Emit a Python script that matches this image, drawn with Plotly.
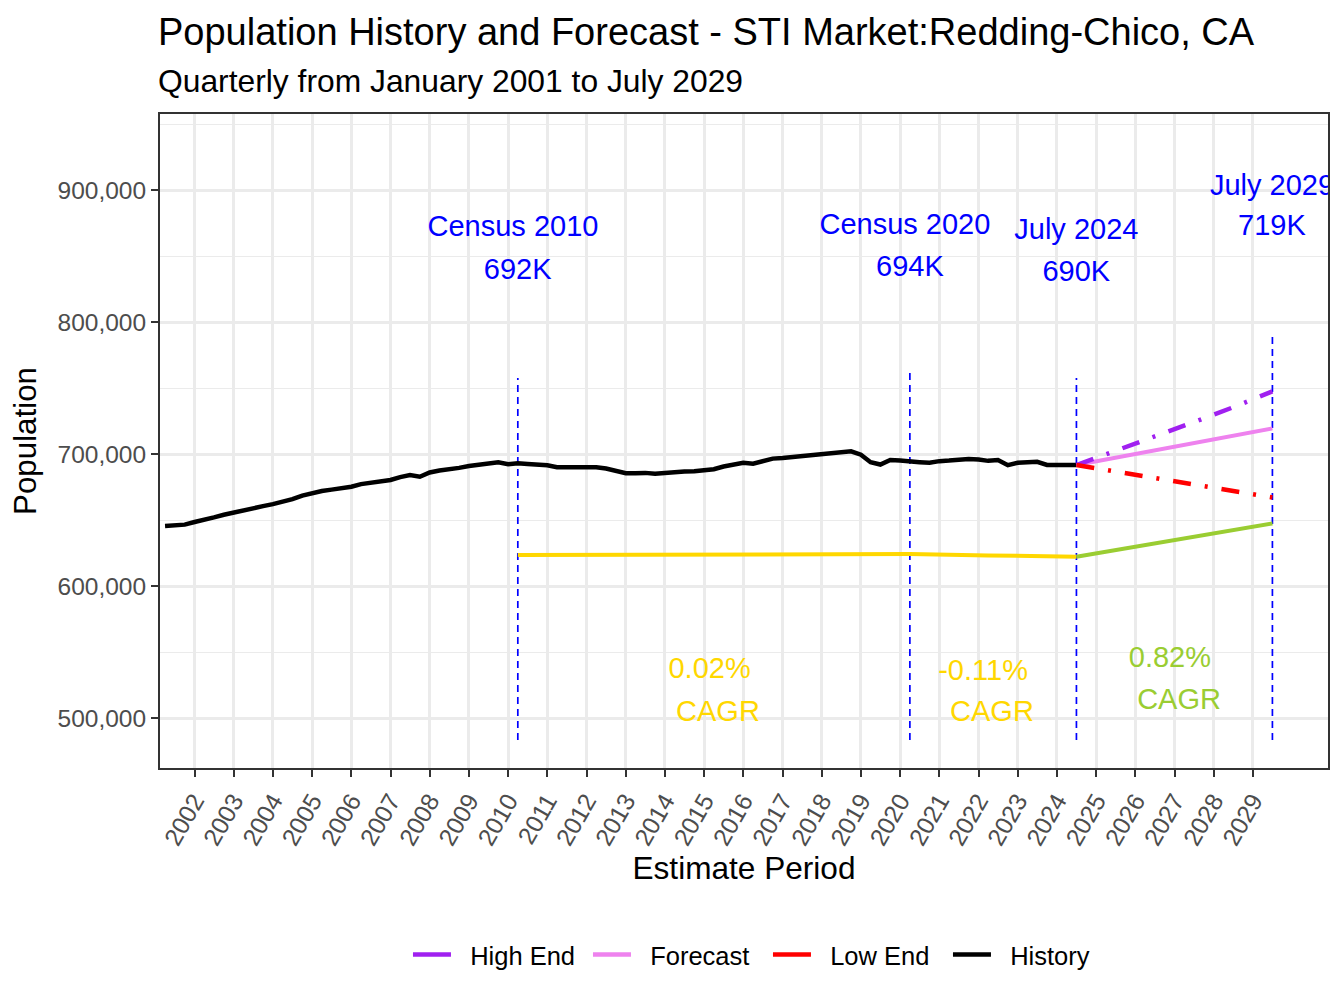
import pandas as pd
import plotly.graph_objects as go

# quarterly history, April 2001 .. July 2024 (thousands)
hist_dates = pd.date_range("2001-04-01", "2024-07-01", freq="QS")
hist_pop = [
    645.5, 645.6, 646.5,
    648.5, 650.0, 652.0, 654.0,
    655.8, 657.5, 659.3, 660.5,
    662.0, 663.5, 665.8, 668.5,
    670.5, 672.0, 673.0, 674.0,
    675.2, 677.2, 678.5, 679.3,
    680.3, 682.5, 684.0, 682.8,
    686.0, 687.5, 688.3, 689.5,
    690.9, 692.0, 693.0, 693.7,
    692.3, 692.9, 692.4, 692.0,
    691.5, 690.0, 690.0, 690.0,
    690.0, 690.0, 689.0, 687.0,
    685.5, 685.5, 685.7, 685.0,
    685.8, 686.5, 686.7, 687.0,
    687.5, 688.5, 690.5, 692.0,
    693.3, 692.6, 694.8, 696.5,
    697.0, 697.6, 698.7, 699.5,
    700.2, 700.5, 701.0, 702.0,
    699.5, 693.8, 692.0, 695.5,
    695.0, 694.0, 693.8, 693.3,
    694.6, 695.0, 695.5, 696.2,
    695.8, 694.8, 695.5, 691.5,
    693.4, 694.0, 694.1, 691.7,
    691.6, 691.6, 691.6,
]

# forecast, yearly July points
fc_dates = ["2024-07-01", "2025-07-01", "2026-07-01", "2027-07-01", "2028-07-01", "2029-07-01"]
forecast = [691.6, 697.1, 702.6, 708.2, 713.8, 719.4]
high_end = [691.6, 702.2, 713.2, 724.2, 735.4, 747.4]
low_end = [691.6, 686.6, 681.6, 676.8, 672.0, 667.1]

# CAGR guide lines (offset series)
cagr_hist_dates = ["2010-04-01", "2015-04-01", "2020-04-01", "2022-04-01", "2024-07-01"]
cagr_hist = [623.5, 623.9, 624.2, 623.2, 622.2]
cagr_fc_dates = ["2024-07-01", "2029-07-01"]
cagr_fc = [622.2, 647.4]

# reference markers
mark_dates = ["2010-04-01", "2020-04-01", "2024-07-01", "2029-07-01"]
mark_low = [483.3, 483.3, 483.3, 483.3]
mark_high = [757.6, 763.6, 757.6, 792.4]

# labels
lab_text = ["Census 2010", "692K", "Census 2020", "694K", "July 2024", "690K", "July 2029", "719K"]
lab_x = ["2010-02-15", "2010-03-31", "2020-02-15", "2020-04-01", "2024-06-30", "2024-06-30", "2029-06-27", "2029-06-27"]
lab_y = [870.5, 837.9, 872.0, 840.2, 868.2, 836.4, 901.5, 871.2]

cagr_text = ["0.02%", "CAGR", "-0.11%", "CAGR", "0.82%", "CAGR"]
cagr_x = ["2015-02-21", "2015-05-10", "2022-02-12", "2022-05-06", "2026-11-19", "2027-02-12"]
cagr_y = [535.6, 503.0, 534.1, 503.0, 543.9, 512.1]
cagr_col = ["#FFD700", "#FFD700", "#FFD700", "#FFD700", "#9ACD32", "#9ACD32"]

years = list(range(2002, 2030))

FONT = "Liberation Sans, Arial, sans-serif"
k = 1000
NB = "\u00a0\u00a0"  # small gap between legend key and label

fig = go.Figure()

for d, lo, hi in zip(mark_dates, mark_low, mark_high):
    fig.add_trace(go.Scatter(x=[d, d], y=[lo * k, hi * k], mode="lines",
                             line=dict(color="#0000FF", width=1.7, dash="7px,5px"),
                             showlegend=False, hoverinfo="skip"))

fig.add_trace(go.Scatter(x=cagr_hist_dates, y=[v * k for v in cagr_hist], mode="lines",
                         line=dict(color="#FFD700", width=4), showlegend=False))
fig.add_trace(go.Scatter(x=cagr_fc_dates, y=[v * k for v in cagr_fc], mode="lines",
                         line=dict(color="#9ACD32", width=4), showlegend=False))

fig.add_trace(go.Scatter(x=hist_dates, y=[v * k for v in hist_pop], mode="lines",
                         line=dict(color="black", width=4.5), showlegend=False))
fig.add_trace(go.Scatter(x=fc_dates, y=[v * k for v in forecast], mode="lines",
                         line=dict(color="#EE82EE", width=4), showlegend=False))
fig.add_trace(go.Scatter(x=fc_dates, y=[v * k for v in high_end], mode="lines",
                         line=dict(color="#A020F0", width=4.5, dash="18px,14px,3px,14px"),
                         showlegend=False))
fig.add_trace(go.Scatter(x=fc_dates, y=[v * k for v in low_end], mode="lines",
                         line=dict(color="#FF0000", width=4.5, dash="18px,14px,3px,14px"),
                         showlegend=False))

# legend keys (solid, as in the original)
for name, col, rank in [("High End", "#A020F0", 1), ("Forecast", "#EE82EE", 2),
                        ("Low End", "#FF0000", 3), ("History", "black", 4)]:
    fig.add_trace(go.Scatter(x=[None], y=[None], mode="lines", name=NB + name,
                             line=dict(color=col, width=4.5), legendrank=rank))

fig.add_trace(go.Scatter(x=lab_x, y=[v * k for v in lab_y], mode="text", text=lab_text,
                         textposition="middle center",
                         textfont=dict(family=FONT, size=29, color="#0000FF"),
                         showlegend=False, hoverinfo="skip"))
fig.add_trace(go.Scatter(x=cagr_x, y=[v * k for v in cagr_y], mode="text", text=cagr_text,
                         textposition="middle center",
                         textfont=dict(family=FONT, size=29, color=cagr_col),
                         showlegend=False, hoverinfo="skip"))

# page body has an 8px margin, so the figure is 8px smaller and margins shifted
fig.update_layout(
    width=1336, height=1000,
    margin=dict(l=152, r=16, t=106, b=240),
    paper_bgcolor="white", plot_bgcolor="white",
    font=dict(family=FONT, color="black"),
    legend=dict(orientation="h", x=0.2123, xanchor="left", y=-0.286, yanchor="middle",
                font=dict(size=25.5), itemwidth=38, entrywidth=127, entrywidthmode="pixels",
                bgcolor="rgba(0,0,0,0)"),
    annotations=[
        dict(text="Population History and Forecast - STI Market:Redding-Chico, CA",
             xref="paper", yref="paper", x=-0.003, y=1.1254, xanchor="left", yanchor="middle",
             showarrow=False, font=dict(size=38, color="black")),
        dict(text="Quarterly from January 2001 to July 2029",
             xref="paper", yref="paper", x=-0.003, y=1.0505, xanchor="left", yanchor="middle",
             showarrow=False, font=dict(size=31.8, color="black")),
    ],
)

fig.update_xaxes(
    type="date", range=["2001-02-13", "2030-12-01"],
    tickmode="array", tickvals=[f"{y}-01-01" for y in years], ticktext=[str(y) for y in years],
    tickangle=-60, tickfont=dict(size=24.5, color="#4D4D4D"),
    ticks="outside", ticklen=7, tickwidth=2, tickcolor="#333333",
    showgrid=True, gridcolor="#EBEBEB", gridwidth=2.7,
    showline=True, linecolor="#333333", linewidth=2, mirror=True, zeroline=False,
    title=dict(text="Estimate Period", font=dict(size=31.6, color="black"), standoff=8),
)
fig.update_yaxes(
    range=[462121, 957576],
    tickmode="array", tickvals=[500000, 600000, 700000, 800000, 900000],
    ticktext=["500,000", "600,000", "700,000", "800,000", "900,000"],
    tickfont=dict(size=24.5, color="#4D4D4D"),
    ticks="outside", ticklen=7, tickwidth=2, tickcolor="#333333",
    showgrid=True, gridcolor="#EBEBEB", gridwidth=2.7,
    minor=dict(tickmode="array", tickvals=[550000, 650000, 750000, 850000, 950000],
               showgrid=True, gridcolor="#EBEBEB", gridwidth=1.3, ticks=""),
    showline=True, linecolor="#333333", linewidth=2, mirror=True, zeroline=False,
    title=dict(text="Population", font=dict(size=31.3, color="black"), standoff=12),
)

fig.write_html("out.html")
